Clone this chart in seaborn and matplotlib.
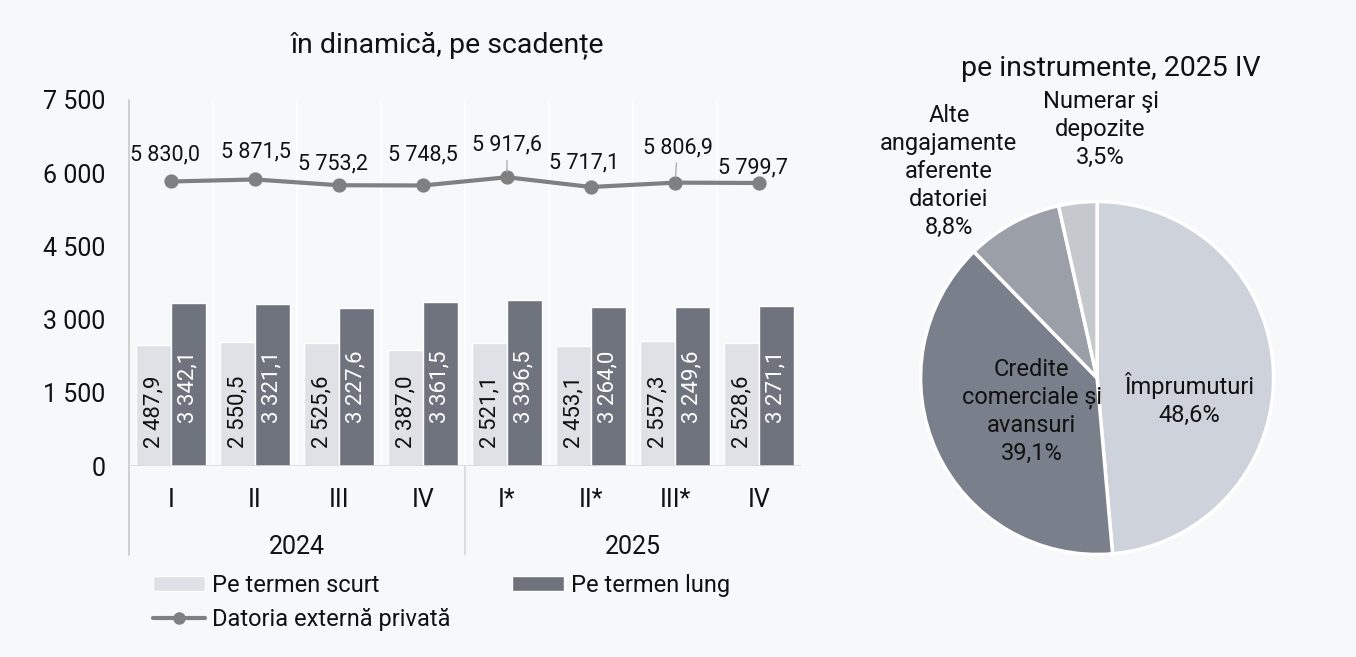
import pandas as pd
import matplotlib.pyplot as plt
import matplotlib.transforms as mtransforms
from matplotlib.patches import Patch
from matplotlib.lines import Line2D
import seaborn as sns

# data
quarters = ['I', 'II', 'III', 'IV', 'I*', 'II*', 'III*', 'IV']
years = ['2024', '2024', '2024', '2024', '2025', '2025', '2025', '2025']
short_term = [2487.9, 2550.5, 2525.6, 2387.0, 2521.1, 2453.1, 2557.3, 2528.6]
long_term = [3342.1, 3321.1, 3227.6, 3361.5, 3396.5, 3264.0, 3249.6, 3271.1]
total_debt = [5830.0, 5871.5, 5753.2, 5748.5, 5917.6, 5717.1, 5806.9, 5799.7]

pie_labels = ['Împrumuturi', 'Credite\ncomerciale și\navansuri',
              'Alte\nangajamente\naferente\ndatoriei', 'Numerar şi\ndepozite']
pie_shares = [48.6, 39.1, 8.8, 3.5]

bg = '#f7f8fa'
light = '#dfe1e6'
dark = '#6e737e'
line_col = '#808080'
pie_cols = ['#ced3db', '#7a808b', '#9ba0a8', '#c5c8cc']

sns.set_theme(style='white')
plt.rcParams['font.family'] = ['Roboto', 'DejaVu Sans']
plt.rcParams['text.color'] = '#111111'


def fmt(v):
    return f"{v:,.1f}".replace(',', ' ').replace('.', ',')


# unique keys so the two "IV" quarters stay apart
periods = [f"{y} {q}" for y, q in zip(years, quarters)]
bars = pd.DataFrame({
    'period': periods * 2,
    'value': short_term + long_term,
    'type': ['Pe termen scurt'] * 8 + ['Pe termen lung'] * 8,
})
line = pd.DataFrame({'period': periods, 'value': total_debt})

fig = plt.figure(figsize=(13.56, 6.57), dpi=100, facecolor=bg)
ax = fig.add_axes([0.0951, 0.2907, 0.4956, 0.5571])
ax.set_facecolor(bg)

sns.barplot(data=bars, x='period', y='value', hue='type', order=periods,
            palette=[light, dark], width=0.83, saturation=1, ax=ax, zorder=2)
sns.pointplot(data=line, x='period', y='value', order=periods, color=line_col,
              markers='o', markersize=8, linewidth=3, errorbar=None, ax=ax)
for c in ax.collections + ax.lines:
    c.set_zorder(4)

ax.set_ylim(0, 7500)
ax.set_xlim(-0.5, 7.5)
ax.set_yticks([0, 1500, 3000, 4500, 6000, 7500])
ax.set_yticklabels(['0', '1 500', '3 000', '4 500', '6 000', '7 500'])
ax.set_xticks(range(8))
ax.set_xticklabels(quarters)
ax.tick_params(axis='both', labelsize=18, colors='#111111', length=0)
ax.tick_params(axis='y', pad=17)
ax.tick_params(axis='x', pad=16)
ax.set_xlabel('')
ax.set_ylabel('')
if ax.get_legend():
    ax.get_legend().remove()
for s in ax.spines.values():
    s.set_visible(False)

# faint vertical separators inside the plot
for b in range(1, 8):
    ax.axvline(b - 0.5, color='white', lw=1.2, zorder=0)
ax.axhline(0, color='#d9d9d9', lw=1.2, zorder=3)

trans = mtransforms.blended_transform_factory(ax.transData, ax.transAxes)
ax.plot([-0.5, -0.5], [1.0, -0.243], color='#c8c8c8', lw=1.2, transform=trans, clip_on=False)
ax.plot([3.5, 3.5], [0.0, -0.243], color='#d9d9d9', lw=1.2, transform=trans, clip_on=False)
ax.text(1.5, -0.22, '2024', transform=trans, ha='center', va='center', fontsize=18)
ax.text(5.5, -0.22, '2025', transform=trans, ha='center', va='center', fontsize=18)

# bar value labels, rotated near the bar base
for cont, txt_col, off in zip(ax.containers, ['#111111', 'white'], [13, 31]):
    for p in cont:
        ax.annotate(fmt(p.get_height()), (p.get_x() + p.get_width() / 2, 0),
                    xytext=(0, off), textcoords='offset points', rotation=90,
                    ha='center', va='bottom', fontsize=16, color=txt_col, zorder=5)

# line labels
label_off = [(-4, 19), (1, 20), (-4, 15), (0, 22), (0, 23), (-5, 17), (2, 25), (-4, 11)]
leader = [False, False, False, False, True, False, True, False]
for i, v in enumerate(total_debt):
    kw = {}
    if leader[i]:
        kw['arrowprops'] = dict(arrowstyle='-', color='#b0b0b0', lw=1,
                                shrinkA=1, shrinkB=4)
    ax.annotate(fmt(v), (i, v), xytext=label_off[i], textcoords='offset points',
                ha='center', va='center', fontsize=15.5, zorder=6, **kw)

fig.text(0.33, 0.931, 'în dinamică, pe scadențe', ha='center', va='center', fontsize=20.5)

# legend
handles = [Patch(facecolor=light),
           Line2D([], [], color=line_col, lw=3, marker='o', markersize=8),
           Patch(facecolor=dark)]
leg = fig.legend(handles,
                 ['Pe termen scurt', 'Datoria externă privată', 'Pe termen lung'],
                 ncol=2, loc='upper left', bbox_to_anchor=(0.104, 0.145),
                 frameon=False, fontsize=17, handlelength=2.2, handletextpad=0.3,
                 columnspacing=2.6, labelspacing=0.5, borderpad=0, handleheight=0.6)

# pie
pax = fig.add_axes([0.6763, 0.1507, 0.2655, 0.548])
pax.set_facecolor(bg)
wedges, _ = pax.pie(pie_shares, colors=pie_cols, startangle=90, counterclock=False,
                    wedgeprops=dict(edgecolor='white', linewidth=2.5))
pax.set_xlim(-1.02, 1.02)
pax.set_ylim(-1.02, 1.02)
pax.set_aspect('equal')
label_pos = [(0.52, -0.12), (-0.37, -0.19), (-0.84, 1.17), (0.02, 1.41)]
for name, share, pos in zip(pie_labels, pie_shares, label_pos):
    pax.text(pos[0], pos[1], f"{name}\n{share:.1f}%".replace('.', ','),
             ha='center', va='center', fontsize=17, linespacing=1.28, clip_on=False)
fig.text(0.819, 0.896, 'pe instrumente, 2025 IV', ha='center', va='center', fontsize=20.5)

fig.savefig('out.png', dpi=100, facecolor=bg)
